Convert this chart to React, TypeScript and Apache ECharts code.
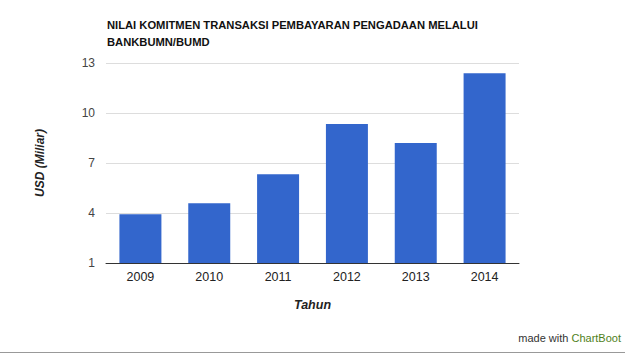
import React, { useEffect, useRef } from "react";
import * as echarts from "echarts";

const years = ["2009", "2010", "2011", "2012", "2013", "2014"];
const values = [3.92, 4.58, 6.32, 9.34, 8.2, 12.38];
const titleLines = ["NILAI KOMITMEN TRANSAKSI PEMBAYARAN PENGADAAN MELALUI", "BANKBUMN/BUMD"];

export default function App() {
  const ref = useRef<HTMLDivElement>(null);
  useEffect(() => {
    document.body.style.margin = "0";
    const chart = echarts.init(ref.current!, null, { renderer: "svg" });
    chart.setOption({
      animation: false,
      backgroundColor: "#fff",
      textStyle: { fontFamily: "Liberation Sans, Arial, sans-serif" },
      title: {
        text: titleLines.join("\n"),
        left: 102,
        top: 11,
        textStyle: { fontSize: 11.2, fontWeight: "bold", color: "#111", lineHeight: 17, fontFamily: "Liberation Sans, Arial, sans-serif" },
      },
      grid: { left: 106, right: 106, top: 63, bottom: 95, containLabel: false },
      xAxis: {
        type: "category",
        data: years,
        name: "Tahun",
        nameLocation: "middle",
        nameGap: 35,
        nameTextStyle: { fontSize: 12.5, fontWeight: "bold", fontStyle: "italic", color: "#222" },
        axisLine: { lineStyle: { color: "#333", width: 1 } },
        axisTick: { show: false },
        axisLabel: { fontSize: 12.5, color: "#222", margin: 7 },
      },
      yAxis: {
        type: "value",
        min: 1,
        max: 13,
        interval: 3,
        name: "USD (Miliar)",
        nameLocation: "middle",
        nameGap: 60,
        nameRotate: 90,
        nameTextStyle: { fontSize: 12, fontWeight: "bold", fontStyle: "italic", color: "#222" },
        axisLine: { show: false },
        axisTick: { show: false },
        axisLabel: { fontSize: 12, color: "#444", margin: 11 },
        splitLine: { lineStyle: { color: "#ddd", width: 1 } },
      },
      series: [
        {
          type: "bar",
          data: values,
          barCategoryGap: "39%",
          itemStyle: { color: "#3366cc" },
        },
      ],
      graphic: [
        {
          type: "text",
          right: 4,
          top: 332,
          style: {
            text: "{a|made with }{b|ChartBoot}",
            rich: {
              a: { fontSize: 11, fill: "#333", fontFamily: "Liberation Sans, Arial, sans-serif" },
              b: { fontSize: 11, fill: "#4f7f1a", fontFamily: "Liberation Sans, Arial, sans-serif" },
            },
          },
        },
        {
          type: "line",
          shape: { x1: 0, y1: 352.5, x2: 625, y2: 352.5 },
          style: { stroke: "#999", lineWidth: 1 },
        },
      ],
    });
    return () => chart.dispose();
  }, []);
  return <div ref={ref} style={{ width: 625, height: 358, position: "absolute", left: 0, top: 0 }} />;
}
